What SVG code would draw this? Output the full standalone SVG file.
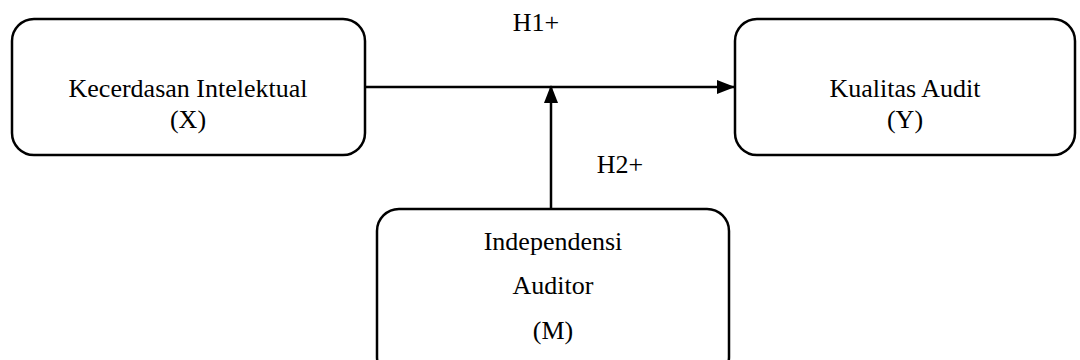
<svg xmlns="http://www.w3.org/2000/svg" width="1080" height="360" viewBox="0 0 1080 360">
<style>
.box{fill:#fff;stroke:#000;stroke-width:2.5}
.t{font-family:"Liberation Serif","Times New Roman",serif;font-size:26px;fill:#000;text-anchor:middle}
.c{stroke:#000;stroke-width:2.5;fill:none}
</style>
<defs>
<marker id="ah2" markerWidth="18" markerHeight="14" refX="17" refY="7" orient="auto" markerUnits="userSpaceOnUse" viewBox="0 0 18 14">
<path d="M0,0 L18,7 L0,14 z" fill="#000"/>
</marker>
</defs>
<g id="connectors">
<line class="c" x1="365" y1="87" x2="734" y2="87" marker-end="url(#ah2)"/>
<line class="c" x1="551" y1="209" x2="551" y2="86" marker-end="url(#ah2)"/>
</g>
<g id="node-x">
<rect class="box" x="12" y="19" width="353" height="136" rx="22"/>
<text class="t" x="188" y="97">Kecerdasan Intelektual</text>
<text class="t" x="188" y="128">(X)</text>
</g>
<g id="node-y">
<rect class="box" x="735" y="19" width="340" height="136" rx="22"/>
<text class="t" x="905" y="97">Kualitas Audit</text>
<text class="t" x="905" y="128">(Y)</text>
</g>
<g id="node-m">
<rect class="box" x="377" y="209" width="352" height="170" rx="22"/>
<text class="t" x="553" y="250">Independensi</text>
<text class="t" x="553" y="294">Auditor</text>
<text class="t" x="553" y="339">(M)</text>
</g>
<g id="labels">
<text class="t" x="536" y="31">H1+</text>
<text class="t" x="620" y="173">H2+</text>
</g>
</svg>
